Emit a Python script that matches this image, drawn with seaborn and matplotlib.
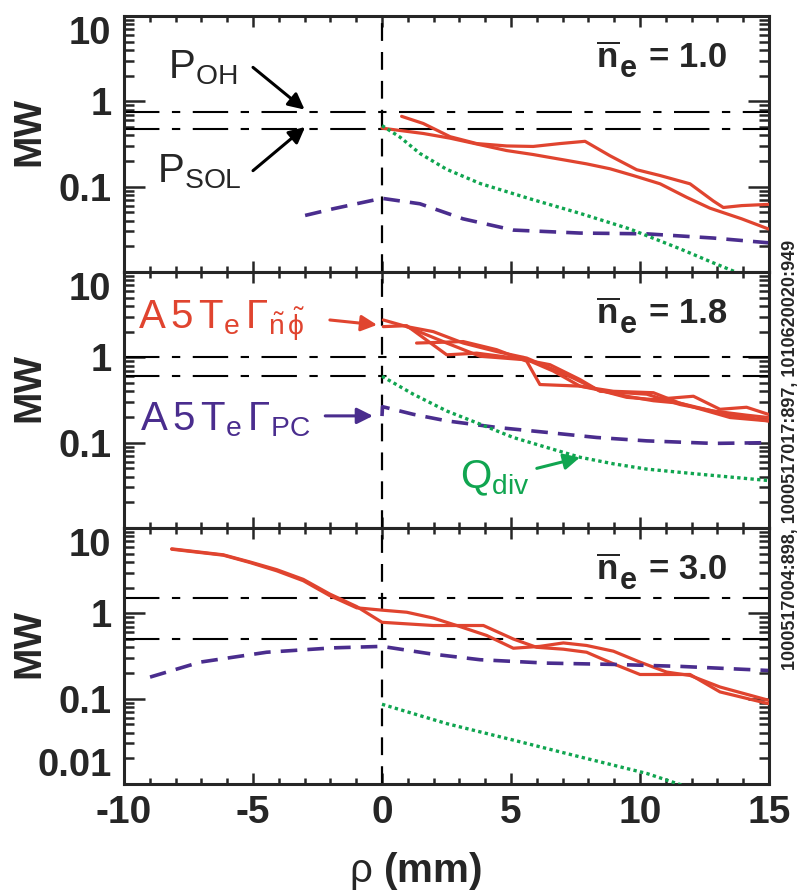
import matplotlib
matplotlib.use("Agg")
import matplotlib.pyplot as plt
from matplotlib.ticker import MultipleLocator, LogLocator, NullFormatter
import seaborn as sns

sns.set_style("ticks")
plt.rcParams["font.family"] = ["Liberation Sans", "DejaVu Sans"]
plt.rcParams["mathtext.fontset"] = "custom"
plt.rcParams["mathtext.rm"] = "Liberation Sans"
plt.rcParams["mathtext.it"] = "Liberation Sans:italic"
plt.rcParams["mathtext.bf"] = "Liberation Sans:bold"

RED = "#e0442f"
PURPLE = "#4a2d8e"
GREEN = "#10a550"

# ---- n_e = 1.0 ----
rho_1_red_a = [0, 1.6, 2.64, 4.83, 5.86, 7.93, 8.84, 9.74, 10.78, 11.81, 12.71, 13.94, 14.97]
mw_1_red_a = [0.485, 0.42, 0.37, 0.265, 0.238, 0.185, 0.162, 0.135, 0.108, 0.075, 0.056, 0.042, 0.032]
rho_1_red_b = [0.76, 1.6, 2.64, 3.67, 4.83, 5.86, 6.9, 7.87, 8.84, 9.87, 10.78, 11.94, 12.84, 13.23, 13.94, 14.97]
mw_1_red_b = [0.667, 0.55, 0.385, 0.32, 0.30, 0.296, 0.32, 0.34, 0.23, 0.158, 0.135, 0.108, 0.068, 0.057, 0.060, 0.062]
rho_1_pc = [-2.98, -1.9, 0, 1.47, 3.14, 5.08, 7.67, 10.26, 12.84, 14.97]
mw_1_pc = [0.046, 0.055, 0.073, 0.063, 0.042, 0.031, 0.0286, 0.028, 0.025, 0.022]
rho_1_div = [0, 0.7, 1.47, 2.5, 3.8, 5.74, 7.67, 9.6, 11.55, 12.84, 14.0]
mw_1_div = [0.52, 0.38, 0.245, 0.16, 0.109, 0.072, 0.0487, 0.032, 0.0187, 0.0128, 0.0092]

# ---- n_e = 1.8 ----
rho_2_red_a = [0.05, 0.96, 1.99, 3.15, 4.44, 5.61, 6.51, 7.42, 8.32, 9.48, 10.52, 11.55, 12.2, 13.36, 14.97]
mw_2_red_a = [2.74, 2.29, 2.0, 1.47, 1.17, 0.98, 0.75, 0.57, 0.42, 0.35, 0.31, 0.29, 0.26, 0.215, 0.18]
rho_2_red_b = [0.05, 0.96, 2.51, 3.67, 5.61, 6.64, 7.67, 8.32, 9.48, 10.52, 12.07, 13.1, 14.13, 14.97]
mw_2_red_b = [2.29, 2.35, 1.07, 1.12, 0.94, 0.69, 0.46, 0.42, 0.34, 0.32, 0.35, 0.246, 0.26, 0.215]
rho_2_red_c = [1.34, 3.15, 4.44, 5.61, 6.12, 7.67, 8.97, 10.52, 11.55, 13.49, 14.97]
mw_2_red_c = [1.47, 1.53, 1.23, 0.90, 0.48, 0.46, 0.40, 0.385, 0.29, 0.197, 0.18]
rho_2_red_d = [0.96, 2.51, 3.8, 5.48, 6.51, 7.67, 8.45, 10.26, 11.55, 12.84, 14.13, 14.97]
mw_2_red_d = [2.29, 1.47, 1.03, 0.94, 0.82, 0.55, 0.40, 0.37, 0.28, 0.235, 0.21, 0.197]
rho_2_pc = [0, 0.02, 1.21, 2.51, 4.44, 6.38, 8.32, 10.26, 12.84, 14.97]
mw_2_pc = [0.205, 0.264, 0.215, 0.18, 0.151, 0.132, 0.115, 0.105, 0.098, 0.10]
rho_2_div = [0, 1.21, 2.51, 3.8, 5.09, 6.38, 7.67, 8.97, 10.26, 12.2, 14.97]
mw_2_div = [0.60, 0.37, 0.235, 0.165, 0.115, 0.088, 0.0675, 0.0565, 0.049, 0.043, 0.036]

# ---- n_e = 3.0 ----
rho_3_red_a = [-8.15, -6.15, -5.12, -4.08, -3.05, -2.02, -0.98, 0, 0.96, 1.99, 3.02, 4.06, 5.09,
               6.12, 7.03, 7.93, 8.97, 10.0, 11.03, 11.94, 13.1, 14.97]
mw_3_red_a = [5.64, 4.8, 3.94, 3.15, 2.41, 1.61, 1.16, 1.09, 1.03, 0.88, 0.70, 0.55, 0.39,
              0.41, 0.45, 0.42, 0.36, 0.268, 0.205, 0.187, 0.137, 0.096]
rho_3_red_b = [-8.15, -6.15, -5.12, -4.08, -3.05, -2.02, -0.98, 0, 1.99, 3.93, 5.09, 5.99,
               7.03, 7.93, 8.97, 10.0, 11.03, 11.94, 13.1, 14.97]
mw_3_red_b = [5.7, 4.85, 4.0, 3.25, 2.5, 1.68, 1.2, 0.785, 0.72, 0.72, 0.50, 0.40,
              0.38, 0.35, 0.256, 0.192, 0.192, 0.192, 0.12, 0.0875]
rho_3_pc = [-8.99, -7.05, -4.47, -1.89, 0, 1.86, 3.8, 6.38, 8.97, 11.55, 14.97]
mw_3_pc = [0.179, 0.268, 0.35, 0.394, 0.41, 0.336, 0.286, 0.261, 0.252, 0.239, 0.214]
rho_3_div = [0, 2.51, 5.09, 7.67, 10.26, 11.6]
mw_3_div = [0.086, 0.051, 0.0327, 0.0208, 0.0133, 0.00975]

p_oh = [0.74, 1.0, 1.53]
p_sol = [0.48, 0.6, 0.5]
density_labels = ["1.0", "1.8", "3.0"]

fig = plt.figure(figsize=(7.99, 8.96), dpi=100)
left, width, height = 124 / 799, 645 / 799, 256 / 896
bottoms = [0.125 + 2 * height, 0.125 + height, 0.125]
axes = [fig.add_axes([left, b, width, height]) for b in bottoms]

red_sets = [
    [(rho_1_red_a, mw_1_red_a), (rho_1_red_b, mw_1_red_b)],
    [(rho_2_red_a, mw_2_red_a), (rho_2_red_b, mw_2_red_b),
     (rho_2_red_c, mw_2_red_c), (rho_2_red_d, mw_2_red_d)],
    [(rho_3_red_a, mw_3_red_a), (rho_3_red_b, mw_3_red_b)],
]
pc_sets = [(rho_1_pc, mw_1_pc), (rho_2_pc, mw_2_pc), (rho_3_pc, mw_3_pc)]
div_sets = [(rho_1_div, mw_1_div), (rho_2_div, mw_2_div), (rho_3_div, mw_3_div)]


def draw(ax, x, y, color, lw, ls="-"):
    sns.lineplot(x=x, y=y, ax=ax, color=color, lw=lw, linestyle=ls,
                 estimator=None, sort=False, zorder=4)


for i, ax in enumerate(axes):
    ax.set_yscale("log")
    ax.set_xlim(-10, 15)
    ax.set_ylim(0.01, 10)

    ax.axhline(p_oh[i], color="black", lw=1.5, ls=(0, (17, 6, 4, 6)), zorder=2)
    ax.axhline(p_sol[i], color="black", lw=1.5, ls=(0, (17, 6, 4, 6)), zorder=2)
    ax.axvline(0, color="black", lw=1.6, ls=(0, (8, 5)), zorder=2)

    for x, y in red_sets[i]:
        draw(ax, x, y, RED, 2.3)
    draw(ax, pc_sets[i][0], pc_sets[i][1], PURPLE, 2.6, (0, (4.6, 2.8)))
    draw(ax, div_sets[i][0], div_sets[i][1], GREEN, 2.4, (0, (1, 1)))

    ax.set_xlabel("")
    ax.set_ylabel("")
    for s in ax.spines.values():
        s.set_linewidth(2.2)
        s.set_visible(True)

    ax.set_xticks([-10, -5, 0, 5, 10, 15])
    ax.xaxis.set_minor_locator(MultipleLocator(1))
    ax.set_yticks([0.01, 0.1, 1, 10])
    ax.yaxis.set_minor_locator(LogLocator(base=10, subs=range(2, 10)))
    ax.yaxis.set_minor_formatter(NullFormatter())
    if i < 2:
        ax.set_yticklabels(["", "0.1", "1", "10"])
        ax.set_xticklabels([])
    else:
        ax.set_yticklabels(["0.01", "0.1", "1", "10"])
        ax.set_xticklabels(["-10", "-5", "0", "5", "10", "15"])

    ax.tick_params(which="both", direction="in", top=True, right=True, width=1.8)
    ax.tick_params(axis="y", which="major", length=15, labelsize=27.5, pad=9)
    ax.tick_params(axis="y", which="minor", length=7)
    ax.tick_params(axis="x", which="major", length=8, labelsize=28, pad=8)
    ax.tick_params(axis="x", which="minor", length=4.5)
    for lab in ax.get_yticklabels() + ax.get_xticklabels():
        lab.set_fontweight("bold")
    yt = ax.yaxis.get_major_ticks()
    yt[3].label1.set_va("top")
    yt[0].label1.set_va("bottom")

    ax.text(-0.146, 0.55, "MW", transform=ax.transAxes, rotation=90, ha="center",
            va="center", fontsize=28, fontweight="bold")
    # density label: n-bar with a large lowered e subscript
    t3 = ax.text(0.935, 0.80, "= " + density_labels[i], transform=ax.transAxes,
                 ha="right", va="baseline", fontsize=25, fontweight="bold")
    t2 = ax.annotate("e", xy=(0, 0), xycoords=t3, xytext=(-9, -7),
                     textcoords="offset points", ha="right", va="bottom",
                     fontsize=22, fontweight="bold")
    ax.annotate(r"$\overline{\mathbf{n}}$", xy=(0, 0), xycoords=t2, xytext=(0, 12),
                textcoords="offset points", ha="right", va="baseline", fontsize=25)

# annotations, top panel
ax = axes[0]
blk = dict(arrowstyle="-|>", lw=2.2, color="black", mutation_scale=24, shrinkA=0, shrinkB=0)
ax.text(-8.3, 1.86, r"P$_\mathrm{OH}$", fontsize=29, ha="left", va="baseline")
ax.annotate("", xy=(-3.0, 0.8), xytext=(-5.0, 2.5), arrowprops=blk)
ax.text(-8.72, 0.111, r"P$_\mathrm{SOL}$", fontsize=29, ha="left", va="baseline")
ax.annotate("", xy=(-2.98, 0.5), xytext=(-5.0, 0.154), arrowprops=blk)

# annotations, middle panel
ax = axes[1]
ax.text(-9.46, 2.19,
        r"A$\,$5$\,$T$_\mathrm{e}\,\mathrm{\Gamma}_{\mathrm{\tilde{n}\,\tilde{\phi}}}$",
        color=RED, fontsize=29, ha="left", va="baseline")
ax.annotate("", xy=(-0.19, 2.4), xytext=(-2.02, 2.74),
            arrowprops=dict(blk, color=RED))
ax.text(-9.38, 0.138, r"A$\,$5$\,$T$_\mathrm{e}\,\mathrm{\Gamma}_\mathrm{PC}$",
        color=PURPLE, fontsize=29, ha="left", va="baseline")
ax.annotate("", xy=(-0.35, 0.206), xytext=(-2.2, 0.206),
            arrowprops=dict(blk, color=PURPLE))
ax.text(3.02, 0.029, r"Q$_\mathrm{div}$", color=GREEN, fontsize=29,
        ha="left", va="baseline")
ax.annotate("", xy=(7.67, 0.067), xytext=(6.0, 0.05),
            arrowprops=dict(blk, color=GREEN))

fig.text(415 / 799, 1 - 871 / 896, r"$\mathrm{\rho}$ (mm)", ha="center", va="center",
         fontsize=29, fontweight="bold")
fig.text(790 / 799, 1 - 455 / 896, "1000517004:898, 1000517017:897, 1010620020:949",
         rotation=90, ha="center", va="center", fontsize=13, fontweight="bold")

fig.savefig("out.png", dpi=100)
